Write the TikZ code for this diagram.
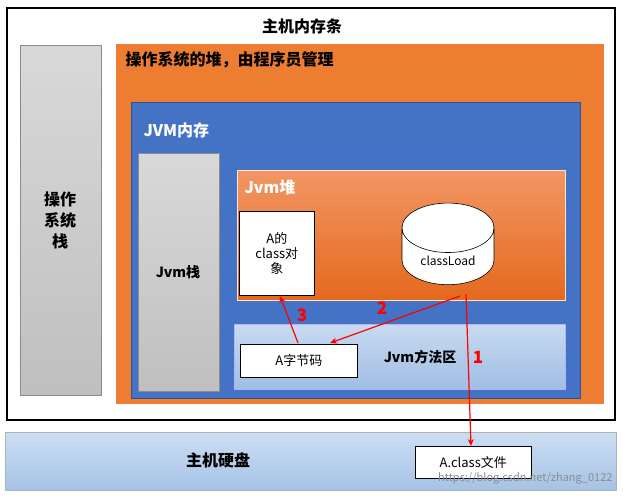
\documentclass[tikz,border=0pt]{standalone}
\usepackage{fontspec}
\setmainfont{Noto Sans CJK SC}
\usetikzlibrary{shapes.geometric,arrows.meta}
\begin{document}
\begin{tikzpicture}[x=1pt,y=-1pt,
  box/.style={draw=black!60,line width=0.6pt},
  wbox/.style={draw=black,fill=white,line width=0.6pt,align=center,font=\fontsize{13}{15}\selectfont},
  ttl/.style={font=\bfseries\fontsize{16}{18}\selectfont,anchor=west},
  redarr/.style={draw=red,line width=1.2pt,-{Stealth[length=7pt,width=6pt]}},
  num/.style={text=red,font=\bfseries\fontsize{17}{19}\selectfont}]
\useasboundingbox (0,0) rectangle (623,496);
\fill[white] (0,0) rectangle (623,496);
\draw[line width=1.5pt] (7,8) rectangle (615,420);
\node[font=\bfseries\fontsize{16}{18}\selectfont] (t1) at (302,26) {主机内存条};
\shade[top color=black!15,bottom color=black!25] (20,45) rectangle (101,395);
\draw[black!45] (20,45) rectangle (101,395);
\node[font=\bfseries\fontsize{16}{21}\selectfont,align=center] (oss) at (60,220) {操作\\系统\\栈};
\fill[fill={rgb,255:red,237;green,125;blue,49}] (116,44) rectangle (604,404);
\node[ttl] (t2) at (122,60) {操作系统的堆，由程序员管理};
\draw[fill={rgb,255:red,68;green,114;blue,196},draw={rgb,255:red,47;green,82;blue,143},line width=1pt] (131,102) rectangle (580,398);
\node[ttl,text=white] (t3) at (140,130) {JVM内存};
\shade[top color=black!15,bottom color=black!25] (138,153) rectangle (219,391);
\draw[black!45] (138,153) rectangle (219,391);
\node[font=\bfseries\fontsize{14}{16}\selectfont] (jz) at (178,272) {Jvm栈};
\shade[top color={rgb,255:red,242;green,150;blue,100},bottom color={rgb,255:red,228;green,105;blue,30}] (237,170) rectangle (565,300);
\draw[white!80!orange] (237,170) rectangle (565,300);
\node[ttl,text=white] (t4) at (241,187) {Jvm堆};
\node[wbox,minimum width=75pt,minimum height=84pt,anchor=north west,inner sep=2pt] (cobj) at (239,211) {A的\\class对\\象};
\node[cylinder,shape border rotate=90,draw=black,fill=white,line width=0.6pt,minimum width=92pt,minimum height=66pt,aspect=0.8,font=\fontsize{12}{14}\selectfont] (cl) at (448,261) {classLoad};
\shade[top color={rgb,255:red,200;green,218;blue,240},bottom color={rgb,255:red,160;green,190;blue,228}] (234,324) rectangle (565,389);
\draw[white!70!blue] (234,324) rectangle (565,389);
\node[font=\bfseries\fontsize{14}{16}\selectfont] (ff) at (420,357) {Jvm方法区};
\node[wbox,minimum width=117pt,minimum height=33pt,anchor=north west] (bc) at (240,344) {A字节码};
\shade[top color={rgb,255:red,205;green,222;blue,242},bottom color={rgb,255:red,165;green,195;blue,230}] (5,432) rectangle (616,490);
\draw[black!30] (5,432) rectangle (616,490);
\node[font=\bfseries\fontsize{16}{18}\selectfont] (hd) at (218,460) {主机硬盘};
\node[wbox,minimum width=116pt,minimum height=32pt,anchor=north west] (af) at (415,446) {A.class文件};
\node[text=black!45,font=\fontsize{11}{13}\selectfont,anchor=east] (wm) at (616,478) {https://blog.csdn.net/zhang\_0122};
\coordinate (c1) at (466,294);
\coordinate (c2) at (460,296);
\draw[redarr] (c1) -- (af.north -| 471,0);
\draw[redarr] (c2) -- (330,343);
\draw[redarr] (298,343) -- (280,296);
\node[num] (n1) at (478,357) {1};
\node[num] (n2) at (382,308) {2};
\node[num] (n3) at (302,315) {3};
\end{tikzpicture}
\end{document}
